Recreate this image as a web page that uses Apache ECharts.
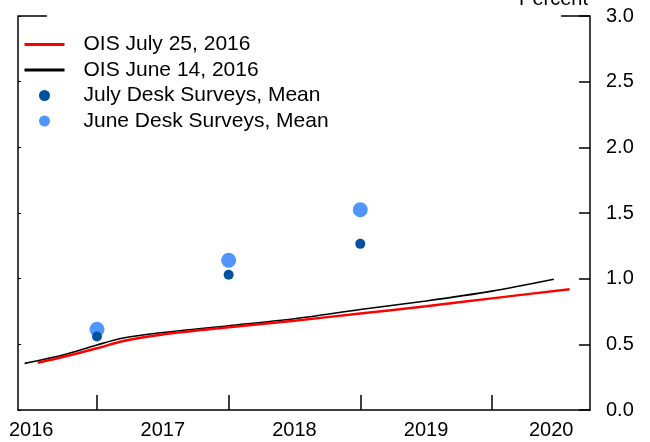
<!DOCTYPE html>
<html>
<head>
<meta charset="utf-8">
<script src="https://cdn.jsdelivr.net/npm/echarts@6/dist/echarts.min.js"></script>
<style>
  html, body { margin: 0; padding: 0; background: #fff; }
  #chart { width: 650px; height: 442px; }
</style>
</head>
<body>
<div id="chart"></div>
<script>
// OIS curves, [year fraction, percent]
const oisJuly = [
  [2016.55, 0.36], [2016.75, 0.405], [2017.0, 0.47], [2017.2, 0.525],
  [2017.5, 0.575], [2018.0, 0.63], [2018.5, 0.68], [2019.0, 0.735],
  [2019.5, 0.79], [2020.0, 0.85], [2020.59, 0.92],
];
const oisJune = [
  [2016.45, 0.355], [2016.75, 0.42], [2017.0, 0.495], [2017.2, 0.548],
  [2017.5, 0.59], [2018.0, 0.642], [2018.5, 0.695], [2019.0, 0.765],
  [2019.5, 0.83], [2020.0, 0.905], [2020.47, 0.995],
];
// desk survey means at year end
const surveyYears = [2017, 2018, 2019];
const julySurvey = [0.56, 1.03, 1.265];
const juneSurvey = [0.615, 1.14, 1.525];

const yearTicks = [2017, 2018, 2019, 2020];
const yearLabels = [2016.5, 2017.5, 2018.5, 2019.5, 2020.45];

const names = [
  'OIS July 25, 2016',
  'OIS June 14, 2016',
  'July Desk Surveys, Mean',
  'June Desk Surveys, Mean',
];

const chart = echarts.init(document.getElementById('chart'));
const font = 'Liberation Sans, Arial, sans-serif';

const option = {
  animation: false,
  textStyle: { fontFamily: font },
  grid: { left: 18, right: 60, top: 16, bottom: 32 },
  legend: {
    orient: 'vertical',
    left: 23,
    top: 34,
    padding: 0,
    itemWidth: 40,
    itemHeight: 11,
    itemGap: 4.5,
    textStyle: { fontSize: 21, color: '#000', lineHeight: 21, padding: [0, 0, 0, 14] },
    data: [
      { name: names[0], itemStyle: { opacity: 0 }, lineStyle: { width: 3 } },
      { name: names[1], itemStyle: { opacity: 0 }, lineStyle: { width: 3 } },
      { name: names[2], icon: 'circle' },
      { name: names[3], icon: 'circle' },
    ],
  },
  xAxis: {
    type: 'value',
    min: 2016.4,
    max: 2020.745,
    axisLine: { lineStyle: { color: '#000', width: 1.5 } },
    axisTick: { customValues: yearTicks, inside: true, length: 15, lineStyle: { color: '#000', width: 1.5 } },
    axisLabel: {
      customValues: yearLabels,
      formatter: (v) => String(Math.floor(v)),
      color: '#000',
      fontSize: 20,
      margin: 10,
    },
    splitLine: { show: false },
  },
  yAxis: [
    {
      type: 'value',
      position: 'right',
      min: 0,
      max: 3,
      interval: 0.5,
      axisLine: { show: true, lineStyle: { color: '#000', width: 1.5 } },
      axisTick: { inside: true, length: 11, lineStyle: { color: '#000', width: 1.5 } },
      axisLabel: { formatter: (v) => v.toFixed(1), color: '#000', fontSize: 20, margin: 16 },
      splitLine: { show: false },
    },
    {
      type: 'value',
      position: 'left',
      min: 0,
      max: 3,
      interval: 0.5,
      axisLine: { show: true, lineStyle: { color: '#000', width: 1.5 } },
      axisTick: { inside: true, length: 3, lineStyle: { color: '#000', width: 1 } },
      axisLabel: { show: false },
      splitLine: { show: false },
    },
  ],
  graphic: [
    { type: 'line', shape: { x1: 18, y1: 16, x2: 47, y2: 16 }, style: { stroke: '#000', lineWidth: 1.5 } },
    { type: 'line', shape: { x1: 561, y1: 16, x2: 590, y2: 16 }, style: { stroke: '#000', lineWidth: 1.5 } },
    {
      type: 'text', x: 588, y: 9, z: 10,
      style: {
        text: 'Percent', fontSize: 20, fontFamily: font, fill: '#000',
        align: 'right', verticalAlign: 'bottom',
      },
    },
  ],
  series: [
    {
      name: names[0],
      type: 'line',
      data: oisJuly,
      symbol: 'none',
      smooth: 0.3,
      color: '#ff0000',
      lineStyle: { color: '#ff0000', width: 2.5 },
      z: 3,
    },
    {
      name: names[1],
      type: 'line',
      data: oisJune,
      symbol: 'none',
      smooth: 0.3,
      color: '#000',
      lineStyle: { color: '#000', width: 1.6 },
      z: 2,
    },
    {
      name: names[2],
      type: 'scatter',
      data: surveyYears.map((y, i) => [y, julySurvey[i]]),
      symbolSize: 10,
      itemStyle: { color: '#03509e', opacity: 1 },
      z: 5,
    },
    {
      name: names[3],
      type: 'scatter',
      data: surveyYears.map((y, i) => [y, juneSurvey[i]]),
      symbolSize: 15,
      itemStyle: { color: '#4f97ff', opacity: 1 },
      z: 4,
    },
  ],
};

chart.setOption(option);
</script>
</body>
</html>
